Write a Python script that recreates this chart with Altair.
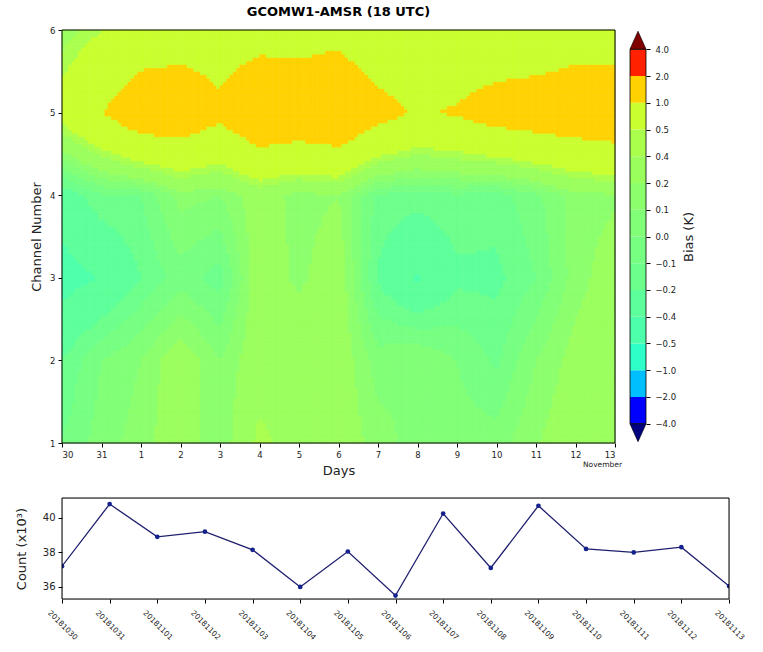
import json
import numpy as np
import pandas as pd
import altair as alt

alt.data_transformers.disable_max_rows()

# ---------------- data ----------------
day_labels = ["30", "31", "1", "2", "3", "4", "5", "6", "7", "8", "9", "10", "11", "12", "13"]
channels = [1, 2, 3, 4, 5, 6]

bias_ch1 = [-0.10, 0.05, 0.15, 0.30, 0.10, 0.45, 0.30, 0.30, 0.15, 0.05, 0.05, 0.05, 0.19, 0.30, 0.35]
bias_ch2 = [-0.20, 0.00, 0.10, 0.30, 0.10, 0.30, 0.34, 0.30, 0.05, 0.10, 0.00, -0.12, 0.10, 0.25, 0.32]
bias_ch3 = [-0.48, -0.39, -0.20, -0.05, -0.15, 0.30, 0.17, 0.30, -0.22, -0.42, -0.23, -0.23, -0.10, 0.15, 0.28]
bias_ch4 = [-0.30, -0.12, -0.10, 0.14, 0.10, 0.28, 0.15, 0.20, -0.12, -0.15, -0.12, -0.15, -0.03, 0.15, 0.18]
bias_ch5 = [0.62, 0.98, 1.37, 1.39, 1.12, 1.50, 1.45, 1.55, 1.20, 0.95, 1.05, 1.24, 1.32, 1.37, 1.46]
bias_ch6 = [0.32, 0.49, 0.65, 0.73, 0.71, 0.78, 0.76, 0.83, 0.56, 0.60, 0.60, 0.60, 0.61, 0.74, 0.69]
bias_rows = [bias_ch1, bias_ch2, bias_ch3, bias_ch4, bias_ch5, bias_ch6]

levels = [-4.0, -2.0, -1.0, -0.5, -0.4, -0.2, -0.1, 0.0, 0.1, 0.2, 0.4, 0.5, 1.0, 2.0, 4.0]
level_labels = ["\u22124.0", "\u22122.0", "\u22121.0", "\u22120.5", "\u22120.4", "\u22120.2", "\u22120.1",
                "0.0", "0.1", "0.2", "0.4", "0.5", "1.0", "2.0", "4.0"]

count_dates = ["20181030", "20181031", "20181101", "20181102", "20181103", "20181104", "20181105",
               "20181106", "20181107", "20181108", "20181109", "20181110", "20181111", "20181112",
               "20181113"]
count_values = [37.2, 40.8, 38.9, 39.2, 38.15, 36.0, 38.05, 35.5, 40.25, 37.1, 40.7, 38.2, 38.0, 38.3, 36.05]

# ---------------- colours (jet colormap, linear norm -4..4) ----------------
def jet(t):
    r = np.interp(t, [0, 0.35, 0.66, 0.89, 1], [0, 0, 1, 1, 0.5])
    g = np.interp(t, [0, 0.125, 0.375, 0.64, 0.91, 1], [0, 0, 1, 1, 0, 0])
    b = np.interp(t, [0, 0.11, 0.34, 0.65, 1], [0.5, 1, 1, 0, 0])
    return "#%02x%02x%02x" % (int(round(r * 255)), int(round(g * 255)), int(round(b * 255)))

band_colors = [jet(((levels[i] + levels[i + 1]) / 2 + 4) / 8) for i in range(len(levels) - 1)]
under_color = jet(0.0)
over_color = jet(1.0)
scale_range = [under_color] + band_colors + [over_color]
color_scale = alt.Scale(type="threshold", domain=levels, range=scale_range)

FONT = "DejaVu Sans"
NDAY = len(day_labels)
PW, PH = 553, 413          # contour plot size
CB_X0, CB_X1 = 568, 584    # colour-bar placement to the right of the plot

# ---------------- shared scales / axes ----------------
xscale = alt.Scale(domain=[0, NDAY - 1], nice=False, zero=False)
yscale = alt.Scale(domain=[1, 6], nice=False, zero=False)

x_axis = alt.Axis(
    values=list(range(NDAY)),
    labelExpr=json.dumps(day_labels) + "[datum.value]",
    title="Days",
    titleFontSize=13,
    titleFontWeight="normal",
    titlePadding=6,
    labelFontSize=8.5,
    labelPadding=3,
    labelOverlap=False,
    tickSize=4,
    tickColor="black",
    domain=False,
    grid=False,
    labelColor="#222",
    titleColor="#222",
)
y_axis = alt.Axis(
    values=channels,
    format="d",
    title="Channel Number",
    titleFontSize=13,
    titleFontWeight="normal",
    titlePadding=6,
    labelFontSize=8.5,
    labelPadding=3,
    labelOverlap=False,
    tickSize=4,
    tickColor="black",
    domain=False,
    grid=False,
    labelColor="#222",
    titleColor="#222",
)

# ---------------- contour panel ----------------
grid_df = pd.DataFrame(
    [{"key": f"{i}_{ch}", "v": bias_rows[c][i]} for c, ch in enumerate(channels) for i in range(NDAY)]
)

NX, NY = 168, 120
DX = (NDAY - 1) / NX
DY = (channels[-1] - channels[0]) / NY

raster = (
    alt.Chart(alt.sequence(0, NX * NY, as_="k"))
    .transform_calculate(ix=f"datum.k % {NX}", iy=f"floor(datum.k / {NX})")
    .transform_calculate(
        xa=f"datum.ix * {DX}",
        xb=f"(datum.ix + 1) * {DX}",
        ya=f"1 + datum.iy * {DY}",
        yb=f"1 + (datum.iy + 1) * {DY}",
        xc=f"(datum.ix + 0.5) * {DX}",
        yc=f"1 + (datum.iy + 0.5) * {DY}",
    )
    .transform_calculate(i0=f"min(floor(datum.xc), {NDAY - 2})", j0="min(floor(datum.yc), 5)")
    .transform_calculate(
        fx="datum.xc - datum.i0",
        fy="datum.yc - datum.j0",
        k00="datum.i0 + '_' + datum.j0",
        k10="(datum.i0 + 1) + '_' + datum.j0",
        k01="datum.i0 + '_' + (datum.j0 + 1)",
        k11="(datum.i0 + 1) + '_' + (datum.j0 + 1)",
    )
    .transform_lookup(lookup="k00", from_=alt.LookupData(data=grid_df, key="key", fields=["v"]), as_=["v00"])
    .transform_lookup(lookup="k10", from_=alt.LookupData(data=grid_df, key="key", fields=["v"]), as_=["v10"])
    .transform_lookup(lookup="k01", from_=alt.LookupData(data=grid_df, key="key", fields=["v"]), as_=["v01"])
    .transform_lookup(lookup="k11", from_=alt.LookupData(data=grid_df, key="key", fields=["v"]), as_=["v11"])
    .transform_calculate(
        val="(1-datum.fx)*(1-datum.fy)*datum.v00 + datum.fx*(1-datum.fy)*datum.v10"
            " + (1-datum.fx)*datum.fy*datum.v01 + datum.fx*datum.fy*datum.v11"
    )
    .mark_rect(strokeWidth=0.6)
    .encode(
        x=alt.X("xa:Q", scale=xscale, axis=x_axis),
        x2="xb:Q",
        y=alt.Y("ya:Q", scale=yscale, axis=y_axis),
        y2="yb:Q",
        color=alt.Color("val:Q", scale=color_scale, legend=None),
        stroke=alt.Stroke("val:Q", scale=color_scale, legend=None),
    )
)

frame_top = (
    alt.Chart(pd.DataFrame({"x0": [0], "x1": [NDAY - 1], "y0": [1], "y1": [6]}))
    .mark_rect(filled=False, color="black", strokeWidth=1)
    .encode(
        x=alt.X("x0:Q", scale=xscale, axis=x_axis),
        x2="x1:Q",
        y=alt.Y("y0:Q", scale=yscale, axis=y_axis),
        y2="y1:Q",
    )
)

month_note = (
    alt.Chart(pd.DataFrame({"xi": [NDAY - 1], "label": ["November"]}))
    .mark_text(align="right", baseline="middle", fontSize=7.5, dx=7, color="#222", font=FONT)
    .encode(x=alt.X("xi:Q", scale=xscale, axis=x_axis), y=alt.value(PH + 22), text="label:N")
)

main_panel = alt.layer(raster, frame_top, month_note)

# ---------------- colour bar (layered beside the contour plot) ----------------
nb = len(band_colors)
bands_df = pd.DataFrame({"b": list(range(nb)), "b1": list(range(1, nb + 1)), "col": band_colors})
ext_df = pd.DataFrame({"pos": [-0.34, nb + 0.34], "col": [under_color, over_color]})
cb_y_scale = alt.Scale(domain=[-0.72, nb + 0.72], nice=False, zero=False)
cb_axis = alt.Axis(
    orient="right",
    offset=CB_X1 - PW,
    values=list(range(len(levels))),
    labelExpr=json.dumps(level_labels, ensure_ascii=False) + "[datum.value]",
    labelOverlap=False,
    title="Bias (K)",
    titleAngle=270,
    titleFontSize=13,
    titleFontWeight="normal",
    titlePadding=20,
    labelFontSize=8.5,
    labelPadding=5,
    tickSize=4,
    tickColor="black",
    domain=False,
    grid=False,
    labelColor="#222",
    titleColor="#222",
)

cb_rect = (
    alt.Chart(bands_df)
    .mark_rect()
    .encode(
        x=alt.value(CB_X0),
        x2=alt.value(CB_X1),
        y=alt.Y("b:Q", scale=cb_y_scale, axis=cb_axis),
        y2="b1:Q",
        color=alt.Color("col:N", scale=None),
    )
)

cb_frame = (
    alt.Chart(pd.DataFrame({"b0": [0], "b1": [nb]}))
    .mark_rect(filled=False, color="black", strokeWidth=0.8)
    .encode(x=alt.value(CB_X0), x2=alt.value(CB_X1), y=alt.Y("b0:Q", scale=cb_y_scale, axis=cb_axis), y2="b1:Q")
)

tri_low = (
    alt.Chart(ext_df.iloc[[0]])
    .mark_point(filled=True, shape="M-1,-1.12L0,1.12L1,-1.12Z", size=256, stroke="black",
                strokeWidth=0.6, opacity=1)
    .encode(x=alt.value((CB_X0 + CB_X1) / 2), y=alt.Y("pos:Q", scale=cb_y_scale, axis=cb_axis),
            fill=alt.Fill("col:N", scale=None))
)
tri_high = (
    alt.Chart(ext_df.iloc[[1]])
    .mark_point(filled=True, shape="M-1,1.12L0,-1.12L1,1.12Z", size=256, stroke="black",
                strokeWidth=0.6, opacity=1)
    .encode(x=alt.value((CB_X0 + CB_X1) / 2), y=alt.Y("pos:Q", scale=cb_y_scale, axis=cb_axis),
            fill=alt.Fill("col:N", scale=None))
)

cbar_panel = alt.layer(cb_rect, cb_frame, tri_low, tri_high)

contour = (
    alt.layer(main_panel, cbar_panel)
    .resolve_scale(y="independent")
    .resolve_axis(y="independent")
    .properties(
        width=PW,
        height=PH,
        title=alt.TitleParams(
            text="GCOMW1-AMSR (18 UTC)", fontSize=13, fontWeight="bold", frame="group",
            anchor="middle", offset=7, color="black", font=FONT,
        ),
    )
)

# ---------------- count panel ----------------
count_df = pd.DataFrame({"idx": list(range(len(count_dates))), "date": count_dates, "count": count_values})
ND = len(count_dates)
bxs = alt.Scale(domain=[0, ND - 1], nice=False, zero=False)
bys = alt.Scale(domain=[35.3, 41.15], nice=False, zero=False)

bx_axis = alt.Axis(
    values=list(range(ND)),
    labelExpr=json.dumps(count_dates) + "[datum.value]",
    labelAngle=45,
    labelAlign="center",
    labelBaseline="middle",
    labelPadding=22,
    labelFontSize=7.5,
    labelOverlap=False,
    tickSize=4,
    tickColor="black",
    domain=False,
    grid=False,
    title=None,
    labelColor="#222",
)
by_axis = alt.Axis(
    values=[36, 38, 40],
    title="Count (x10\u00b3)",
    titleFontSize=13,
    titleFontWeight="normal",
    titlePadding=14,
    labelFontSize=10,
    labelPadding=3,
    labelOverlap=False,
    tickSize=4,
    tickColor="black",
    domain=False,
    grid=False,
    labelColor="#222",
    titleColor="#222",
)

cline = alt.Chart(count_df).mark_line(color="#1e1e6e", strokeWidth=1.3, clip=True).encode(
    x=alt.X("idx:Q", scale=bxs, axis=bx_axis), y=alt.Y("count:Q", scale=bys, axis=by_axis)
)
cpts = alt.Chart(count_df).mark_point(filled=True, size=22, color="#14208c", opacity=1, clip=True).encode(
    x=alt.X("idx:Q", scale=bxs, axis=bx_axis), y=alt.Y("count:Q", scale=bys, axis=by_axis)
)
frame_bot = (
    alt.Chart(pd.DataFrame({"x0": [0], "x1": [ND - 1], "y0": [35.3], "y1": [41.15]}))
    .mark_rect(filled=False, color="black", strokeWidth=1)
    .encode(
        x=alt.X("x0:Q", scale=bxs, axis=bx_axis), x2="x1:Q",
        y=alt.Y("y0:Q", scale=bys, axis=by_axis), y2="y1:Q",
    )
)

bottom = alt.layer(cline, cpts, frame_bot).properties(width=667, height=101)

# ---------------- assemble ----------------
chart = (
    alt.vconcat(contour, bottom, spacing=55, bounds="flush")
    .properties(padding={"left": 14, "top": 5, "right": 5, "bottom": 5}, background="white")
    .configure_view(strokeWidth=0)
    .configure_axis(labelOverlap=False)
    .configure(font=FONT)
)

chart.save("out.html", embed_options={"renderer": "svg", "actions": False})
